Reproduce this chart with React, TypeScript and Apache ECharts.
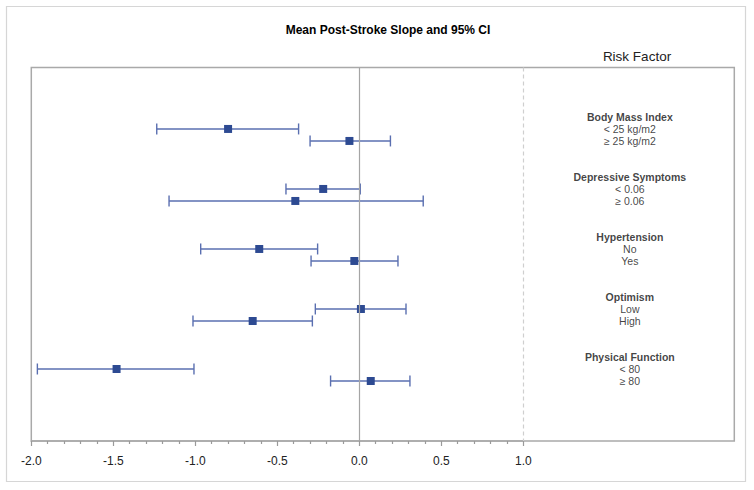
import React, { useEffect, useRef } from "react";
import * as echarts from "echarts";

const groups = ["Body Mass Index", "Depressive Symptoms", "Hypertension", "Optimism", "Physical Function"];
const levels = ["< 25 kg/m2", "≥ 25 kg/m2", "< 0.06", "≥ 0.06", "No", "Yes", "Low", "High", "< 80", "≥ 80"];
const means = [-0.8, -0.06, -0.22, -0.39, -0.61, -0.03, 0.01, -0.65, -1.48, 0.07];
const lower = [-1.235, -0.3, -0.447, -1.16, -0.967, -0.294, -0.268, -1.014, -1.963, -0.175];
const upper = [-0.37, 0.19, 0.006, 0.39, -0.254, 0.236, 0.285, -0.286, -1.008, 0.309];
const xTicks = [-2.0, -1.5, -1.0, -0.5, 0.0, 0.5, 1.0];
const refLines = [0, 1];

const TITLE = "Mean Post-Stroke Slope and 95% CI";
const HEADER = "Risk Factor";

export default function App() {
  const ref = useRef<HTMLDivElement>(null);
  useEffect(() => {
    if (!ref.current) return;
    const chart = echarts.init(ref.current, null, { renderer: "svg" });

    // row layout: each group = header row + 2 level rows + 2 blank rows
    const rowOf = (i: number) => 5 + Math.floor(i / 2) * 5 + (i % 2);
    const labelX = 1.65;
    const markerColor = "#2d4a92";
    const barColor = "#5a6fb0";
    const font = "'Liberation Sans', Arial, sans-serif";

    const barData = levels.map((_, i) => [lower[i], upper[i], rowOf(i)]);
    const pointData = levels.map((_, i) => [means[i], rowOf(i)]);
    const labelData: any[] = [];
    groups.forEach((g, gi) => {
      labelData.push({ value: [labelX, 4 + gi * 5], name: g, label: { fontWeight: "bold" } });
      labelData.push({ value: [labelX, 5 + gi * 5], name: levels[gi * 2] });
      labelData.push({ value: [labelX, 6 + gi * 5], name: levels[gi * 2 + 1] });
    });

    const gridTop = 67.5;
    const gridBottom = 49;
    const xMaxMain = 2.287;

    chart.setOption({
      animation: false,
      backgroundColor: "#ffffff",
      title: [
        {
          text: TITLE,
          left: 383,
          top: 19,
          textAlign: "center",
          textStyle: { fontFamily: font, fontSize: 12, fontWeight: "bold", color: "#000" },
        },
        {
          text: HEADER,
          left: 632,
          top: 44,
          textAlign: "center",
          textStyle: { fontFamily: font, fontSize: 13.5, fontWeight: "normal", color: "#222" },
        },
      ],
      graphic: [
        {
          type: "rect",
          shape: { x: 6.5, y: 6.5, width: 739, height: 475 },
          style: { fill: "none", stroke: "#d6d6d6", lineWidth: 1.2 },
          silent: true,
        },
      ],
      grid: [
        { left: 31.3, right: 19.7, top: gridTop, bottom: gridBottom, show: true, borderColor: "#a9a9a9", borderWidth: 1.5, backgroundColor: "transparent" },
        { left: 31.3, width: 492, top: gridTop, bottom: gridBottom, show: false },
      ],
      xAxis: [
        {
          type: "value",
          gridIndex: 0,
          min: -2,
          max: xMaxMain,
          axisLine: { show: false },
          axisTick: { show: false },
          axisLabel: { show: false },
          splitLine: { show: false },
        },
        {
          type: "value",
          gridIndex: 1,
          position: "bottom",
          min: -2,
          max: 1,
          interval: 0.5,
          axisLine: { show: true, onZero: false, lineStyle: { color: "#a9a9a9", width: 1.5 } },
          axisTick: { show: true, length: 5, inside: false, lineStyle: { color: "#9a9a9a", width: 1.2 } },
          minorTick: { show: true, splitNumber: 5, length: 3, lineStyle: { color: "#9a9a9a", width: 1.2 } },
          axisLabel: {
            show: true,
            margin: 14,
            fontFamily: font,
            fontSize: 12,
            color: "#222",
            formatter: (v: number) => (xTicks.some((t) => Math.abs(t - v) < 1e-9) ? v.toFixed(1) : ""),
          },
          splitLine: { show: false },
        },
      ],
      yAxis: [
        { type: "value", gridIndex: 0, inverse: true, min: -0.12, max: 31, show: false },
        { type: "value", gridIndex: 1, inverse: true, min: -0.12, max: 31, show: false },
      ],
      series: [
        {
          type: "custom",
          name: "ci",
          xAxisIndex: 0,
          yAxisIndex: 0,
          data: barData,
          encode: { x: [0, 1], y: 2 },
          z: 3,
          renderItem: (params: any, api: any) => {
            const y = api.value(2);
            const p1 = api.coord([api.value(0), y]);
            const p2 = api.coord([api.value(1), y]);
            const h = 5.5;
            const st = { stroke: barColor, lineWidth: 1.4 };
            return {
              type: "group",
              children: [
                { type: "line", shape: { x1: p1[0], y1: p1[1], x2: p2[0], y2: p2[1] }, style: st },
                { type: "line", shape: { x1: p1[0], y1: p1[1] - h, x2: p1[0], y2: p1[1] + h }, style: st },
                { type: "line", shape: { x1: p2[0], y1: p2[1] - h, x2: p2[0], y2: p2[1] + h }, style: st },
              ],
            };
          },
        },
        {
          type: "scatter",
          name: "mean",
          xAxisIndex: 0,
          yAxisIndex: 0,
          data: pointData,
          symbol: "rect",
          symbolSize: 8,
          z: 4,
          itemStyle: { color: markerColor, opacity: 1 },
          markLine: {
            silent: true,
            symbol: "none",
            label: { show: false },
            data: refLines.map((v, i) => ({
              xAxis: v,
              lineStyle: i === 0 ? { color: "#a5a5a5", width: 1.2, type: "solid" } : { color: "#cfcfcf", width: 1.2, type: [4, 3] },
            })),
          },
        },
        {
          type: "scatter",
          name: "labels",
          xAxisIndex: 0,
          yAxisIndex: 0,
          data: labelData,
          symbolSize: 0,
          silent: true,
          label: {
            show: true,
            position: "inside",
            formatter: (p: any) => p.name,
            fontFamily: font,
            fontSize: 10.5,
            color: "#111",
          },
        },
      ],
    });
    return () => chart.dispose();
  }, []);
  return <div ref={ref} style={{ position: "fixed", left: 0, top: 0, width: 754, height: 490 }} />;
}
